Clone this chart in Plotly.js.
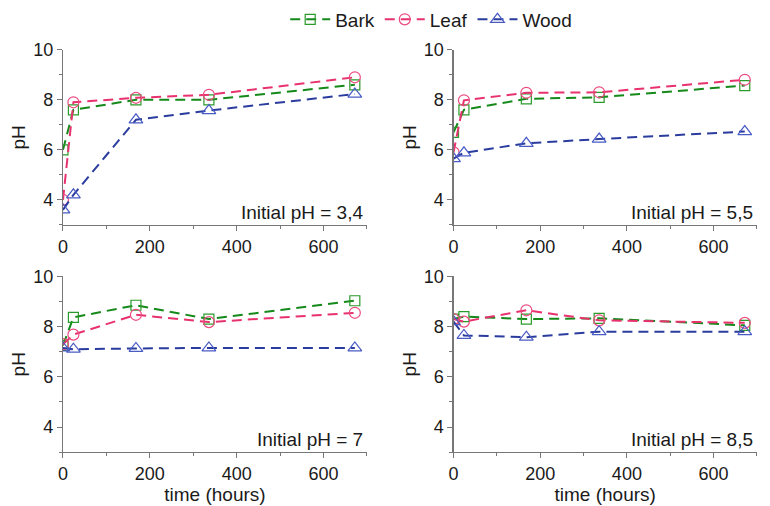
<!DOCTYPE html>
<html><head><meta charset="utf-8">
<script src="https://cdn.plot.ly/plotly-3.0.1.min.js"></script>
<style>html,body{margin:0;padding:0;background:#fff}</style>
</head><body><div id="chart" style="width:770px;height:506px"></div>
<script>
const time = [0, 24, 168, 336, 672];
const panelLabels = ["Initial pH = 3,4", "Initial pH = 5,5", "Initial pH = 7", "Initial pH = 8,5"];
const seriesNames = ["Bark", "Leaf", "Wood"];
// pH 3,4
const bark34 = [6.0, 7.6, 8.0, 8.0, 8.6];
const leaf34 = [4.0, 7.9, 8.08, 8.2, 8.9];
const wood34 = [3.6, 4.2, 7.2, 7.57, 8.23];
// pH 5,5
const bark55 = [6.7, 7.6, 8.04, 8.1, 8.57];
const leaf55 = [5.9, 7.98, 8.28, 8.3, 8.8];
const wood55 = [5.65, 5.88, 6.26, 6.43, 6.73];
// pH 7
const bark7 = [7.25, 8.37, 8.85, 8.3, 9.03];
const leaf7 = [7.3, 7.68, 8.47, 8.18, 8.55];
const wood7 = [7.15, 7.1, 7.13, 7.15, 7.15];
// pH 8,5
const bark85 = [8.3, 8.4, 8.3, 8.33, 8.05];
const leaf85 = [8.3, 8.2, 8.65, 8.25, 8.15];
const wood85 = [8.2, 7.65, 7.58, 7.8, 7.8];

const panels = [[bark34, leaf34, wood34], [bark55, leaf55, wood55], [bark7, leaf7, wood7], [bark85, leaf85, wood85]];
const lineColors = ["#15891a", "#e8326e", "#2a3c9e"];
const markerColors = ["#2a9a2a", "#ec4a80", "#4a5cc4"];
const symbols = ["square-open", "circle-open", "triangle-up-open"];
const sizes = [10, 11, 12];

const traces = [];
panels.forEach((p, i) => {
  const ax = i === 0 ? "" : String(i + 1);
  p.forEach((vals, s) => {
    traces.push({
      x: time, y: vals, type: "scatter", mode: "lines+markers",
      name: seriesNames[s], legendgroup: seriesNames[s], showlegend: i === 0,
      xaxis: "x" + ax, yaxis: "y" + ax,
      line: {color: lineColors[s], width: 2, dash: "10px,6px"},
      marker: {symbol: symbols[s], size: sizes[s], color: markerColors[s], line: {width: 1.2, color: markerColors[s]}}
    });
  });
});

const font = {family: "Liberation Sans, Arial, sans-serif", size: 18, color: "#1a1a1a"};
const xdom = [[0.0818, 0.4766], [0.589, 0.983], [0.0818, 0.4766], [0.589, 0.983]];
const ydom = [[0.559, 0.907], [0.559, 0.907], [0.107, 0.4565], [0.107, 0.4565]];

const layout = {
  width: 770, height: 506,
  margin: {l: 0, r: 0, t: 0, b: 0},
  paper_bgcolor: "#fff", plot_bgcolor: "#fff",
  font: font,
  showlegend: true,
  legend: {orientation: "h", x: 0.56, xanchor: "center", y: 1.005, yanchor: "top", font: {size: 19, color: "#1a1a1a"}, itemwidth: 40, tracegroupgap: 0},
  annotations: []
};
for (let i = 0; i < 4; i++) {
  const ax = i === 0 ? "" : String(i + 1);
  layout["xaxis" + ax] = {
    domain: xdom[i], range: [0, 700], anchor: "y" + ax,
    showline: true, linecolor: "#777", linewidth: 1.2, showgrid: false, zeroline: false,
    ticks: "outside", ticklen: 5, tickcolor: "#777", tickvals: [0, 200, 400, 600],
    minor: {tickvals: [100, 300, 500, 700], ticks: "outside", ticklen: 3, tickcolor: "#777"},
    tickfont: {size: 18, color: "#1a1a1a"},
    title: i >= 2 ? {text: "time (hours)", font: {size: 19, color: "#1a1a1a"}, standoff: 2} : {text: ""}
  };
  layout["yaxis" + ax] = {
    domain: ydom[i], range: [3, 10], anchor: "x" + ax,
    showline: true, linecolor: "#777", linewidth: 1.2, showgrid: false, zeroline: false,
    ticks: "outside", ticklen: 5, tickcolor: "#777", tickvals: [4, 6, 8, 10],
    minor: {tickvals: [3, 5, 7, 9], ticks: "outside", ticklen: 3, tickcolor: "#777"},
    tickfont: {size: 18, color: "#1a1a1a"},
    title: {text: "pH", font: {size: 19, color: "#1a1a1a"}, standoff: 2}
  };
  layout.annotations.push({
    xref: "x" + ax + " domain", yref: "y" + ax + " domain", x: 0.995, y: 0.0,
    xanchor: "right", yanchor: "bottom", showarrow: false,
    text: panelLabels[i], font: {size: 19, color: "#1a1a1a"}
  });
}
Plotly.newPlot("chart", traces, layout, {displayModeBar: false, staticPlot: true});
</script></body></html>
